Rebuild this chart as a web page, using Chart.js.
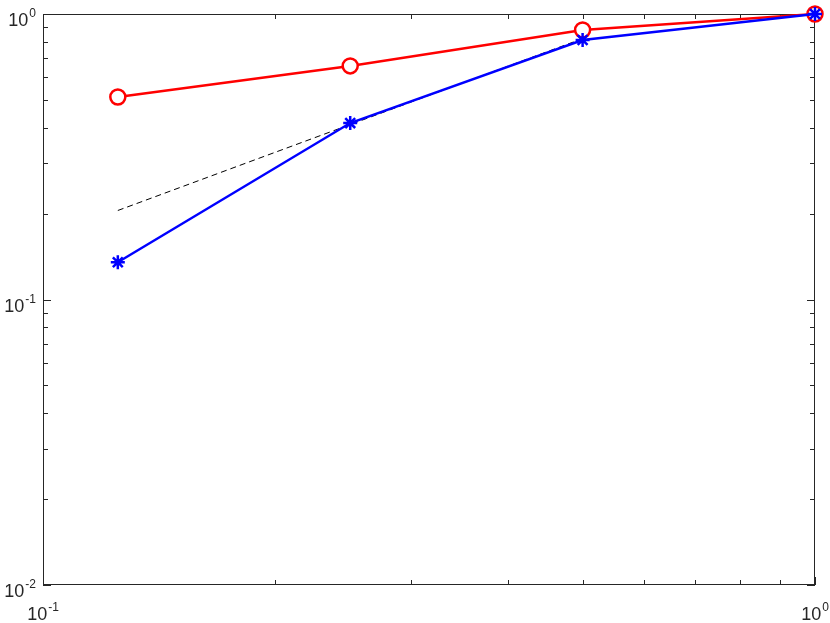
<!DOCTYPE html>
<html lang="en">
<head>
    <meta charset="UTF-8">
    <title>Log-log convergence</title>
    <script src="https://cdn.jsdelivr.net/npm/chart.js"></script>
    <style>
        body { margin: 0; background: #fff; }
        #wrap { width: 830px; height: 623px; }
    </style>
</head>
<body>
    <div id="wrap"><canvas id="plot"></canvas></div>

    <script>
        // step sizes on the x axis
        const hValues = [0.125, 0.25, 0.5, 1];
        // red circles and blue stars
        const redValues = [0.512, 0.658, 0.879, 1.0];
        const blueValues = [0.135, 0.415, 0.811, 1.0];
        // dashed slope-1 reference line
        const refX = [0.125, 0.25, 0.5];
        const refValues = [0.205, 0.41, 0.82];
        // tick labels (decades)
        const xTickValues = [0.1, 1];
        const xTickExps = ['-1', '0'];
        const yTickValues = [0.01, 0.1, 1];
        const yTickExps = ['-2', '-1', '0'];

        const toPoints = (xs, ys) => xs.map((x, i) => ({ x: x, y: ys[i] }));

        const axisColor = '#262626';

        // MATLAB-like box with inward ticks and 10^n labels
        const boxAxes = {
            id: 'boxAxes',
            beforeDatasetsDraw(chart) {
                const { ctx, chartArea: a, scales } = chart;
                const xs = scales.x, ys = scales.y;
                ctx.save();
                ctx.strokeStyle = axisColor;
                ctx.lineWidth = 1;
                ctx.strokeRect(a.left + 0.5, a.top + 0.5, a.right - a.left - 1, a.bottom - a.top - 1);

                ctx.beginPath();
                // x ticks (top and bottom)
                for (let d = -1; d <= 0; d++) {
                    for (let m = 1; m <= 9; m++) {
                        const v = m * Math.pow(10, d);
                        if (v > 1) continue;
                        const px = Math.round(xs.getPixelForValue(v)) + 0.5;
                        const len = m === 1 ? 8 : 5;
                        ctx.moveTo(px, a.bottom); ctx.lineTo(px, a.bottom - len);
                        ctx.moveTo(px, a.top); ctx.lineTo(px, a.top + len);
                    }
                }
                // y ticks (left and right)
                for (let d = -2; d <= 0; d++) {
                    for (let m = 1; m <= 9; m++) {
                        const v = m * Math.pow(10, d);
                        if (v > 1) continue;
                        const py = Math.round(ys.getPixelForValue(v)) + 0.5;
                        const len = m === 1 ? 8 : 5;
                        ctx.moveTo(a.left, py); ctx.lineTo(a.left + len, py);
                        ctx.moveTo(a.right, py); ctx.lineTo(a.right - len, py);
                    }
                }
                ctx.stroke();

                ctx.fillStyle = axisColor;
                const baseFont = '18px "Liberation Sans", Arial, sans-serif';
                const supFont = '12px "Liberation Sans", Arial, sans-serif';
                const measure = (exp) => {
                    ctx.font = baseFont;
                    const w1 = ctx.measureText('10').width;
                    ctx.font = supFont;
                    const w2 = ctx.measureText(exp).width;
                    return [w1, w2];
                };
                const drawLabel = (x, y, exp, w1) => {
                    ctx.font = baseFont;
                    ctx.textAlign = 'left';
                    ctx.textBaseline = 'alphabetic';
                    ctx.fillText('10', x, y);
                    ctx.font = supFont;
                    ctx.fillText(exp, x + w1 + 1, y - 9);
                };
                xTickValues.forEach((v, i) => {
                    const [w1, w2] = measure(xTickExps[i]);
                    const cx = xs.getPixelForValue(v);
                    drawLabel(cx - (w1 + w2 + 1) / 2, a.bottom + 35, xTickExps[i], w1);
                });
                yTickValues.forEach((v, i) => {
                    const [w1, w2] = measure(yTickExps[i]);
                    const cy = ys.getPixelForValue(v);
                    drawLabel(a.left - 7 - (w1 + w2 + 1), cy + 12, yTickExps[i], w1);
                });
                ctx.restore();
            }
        };

        const ctx = document.getElementById('plot').getContext('2d');
        const plot = new Chart(ctx, {
            type: 'scatter',
            data: {
                datasets: [{
                    label: 'blue',
                    data: toPoints(hValues, blueValues),
                    showLine: true,
                    borderColor: '#0000ff',
                    backgroundColor: '#0000ff',
                    borderWidth: 2.5,
                    pointStyle: 'star',
                    pointRadius: 7,
                    pointBorderWidth: 2.5,
                    clip: false
                }, {
                    label: 'red',
                    data: toPoints(hValues, redValues),
                    showLine: true,
                    borderColor: '#ff0000',
                    backgroundColor: '#ffffff',
                    borderWidth: 2.5,
                    pointStyle: 'circle',
                    pointRadius: 7.5,
                    pointBorderWidth: 2.5,
                    clip: false
                }, {
                    label: 'reference',
                    data: toPoints(refX, refValues),
                    showLine: true,
                    borderColor: '#000000',
                    borderWidth: 1,
                    borderDash: [6, 4],
                    pointRadius: 0,
                    clip: false
                }]
            },
            options: {
                responsive: true,
                maintainAspectRatio: false,
                animation: false,
                layout: { padding: { left: 43, right: 15, top: 14, bottom: 38 } },
                plugins: { legend: { display: false }, tooltip: { enabled: false } },
                scales: {
                    x: { type: 'logarithmic', min: 0.1, max: 1, display: false },
                    y: { type: 'logarithmic', min: 0.01, max: 1, display: false }
                }
            },
            plugins: [boxAxes]
        });
    </script>
</body>
</html>
